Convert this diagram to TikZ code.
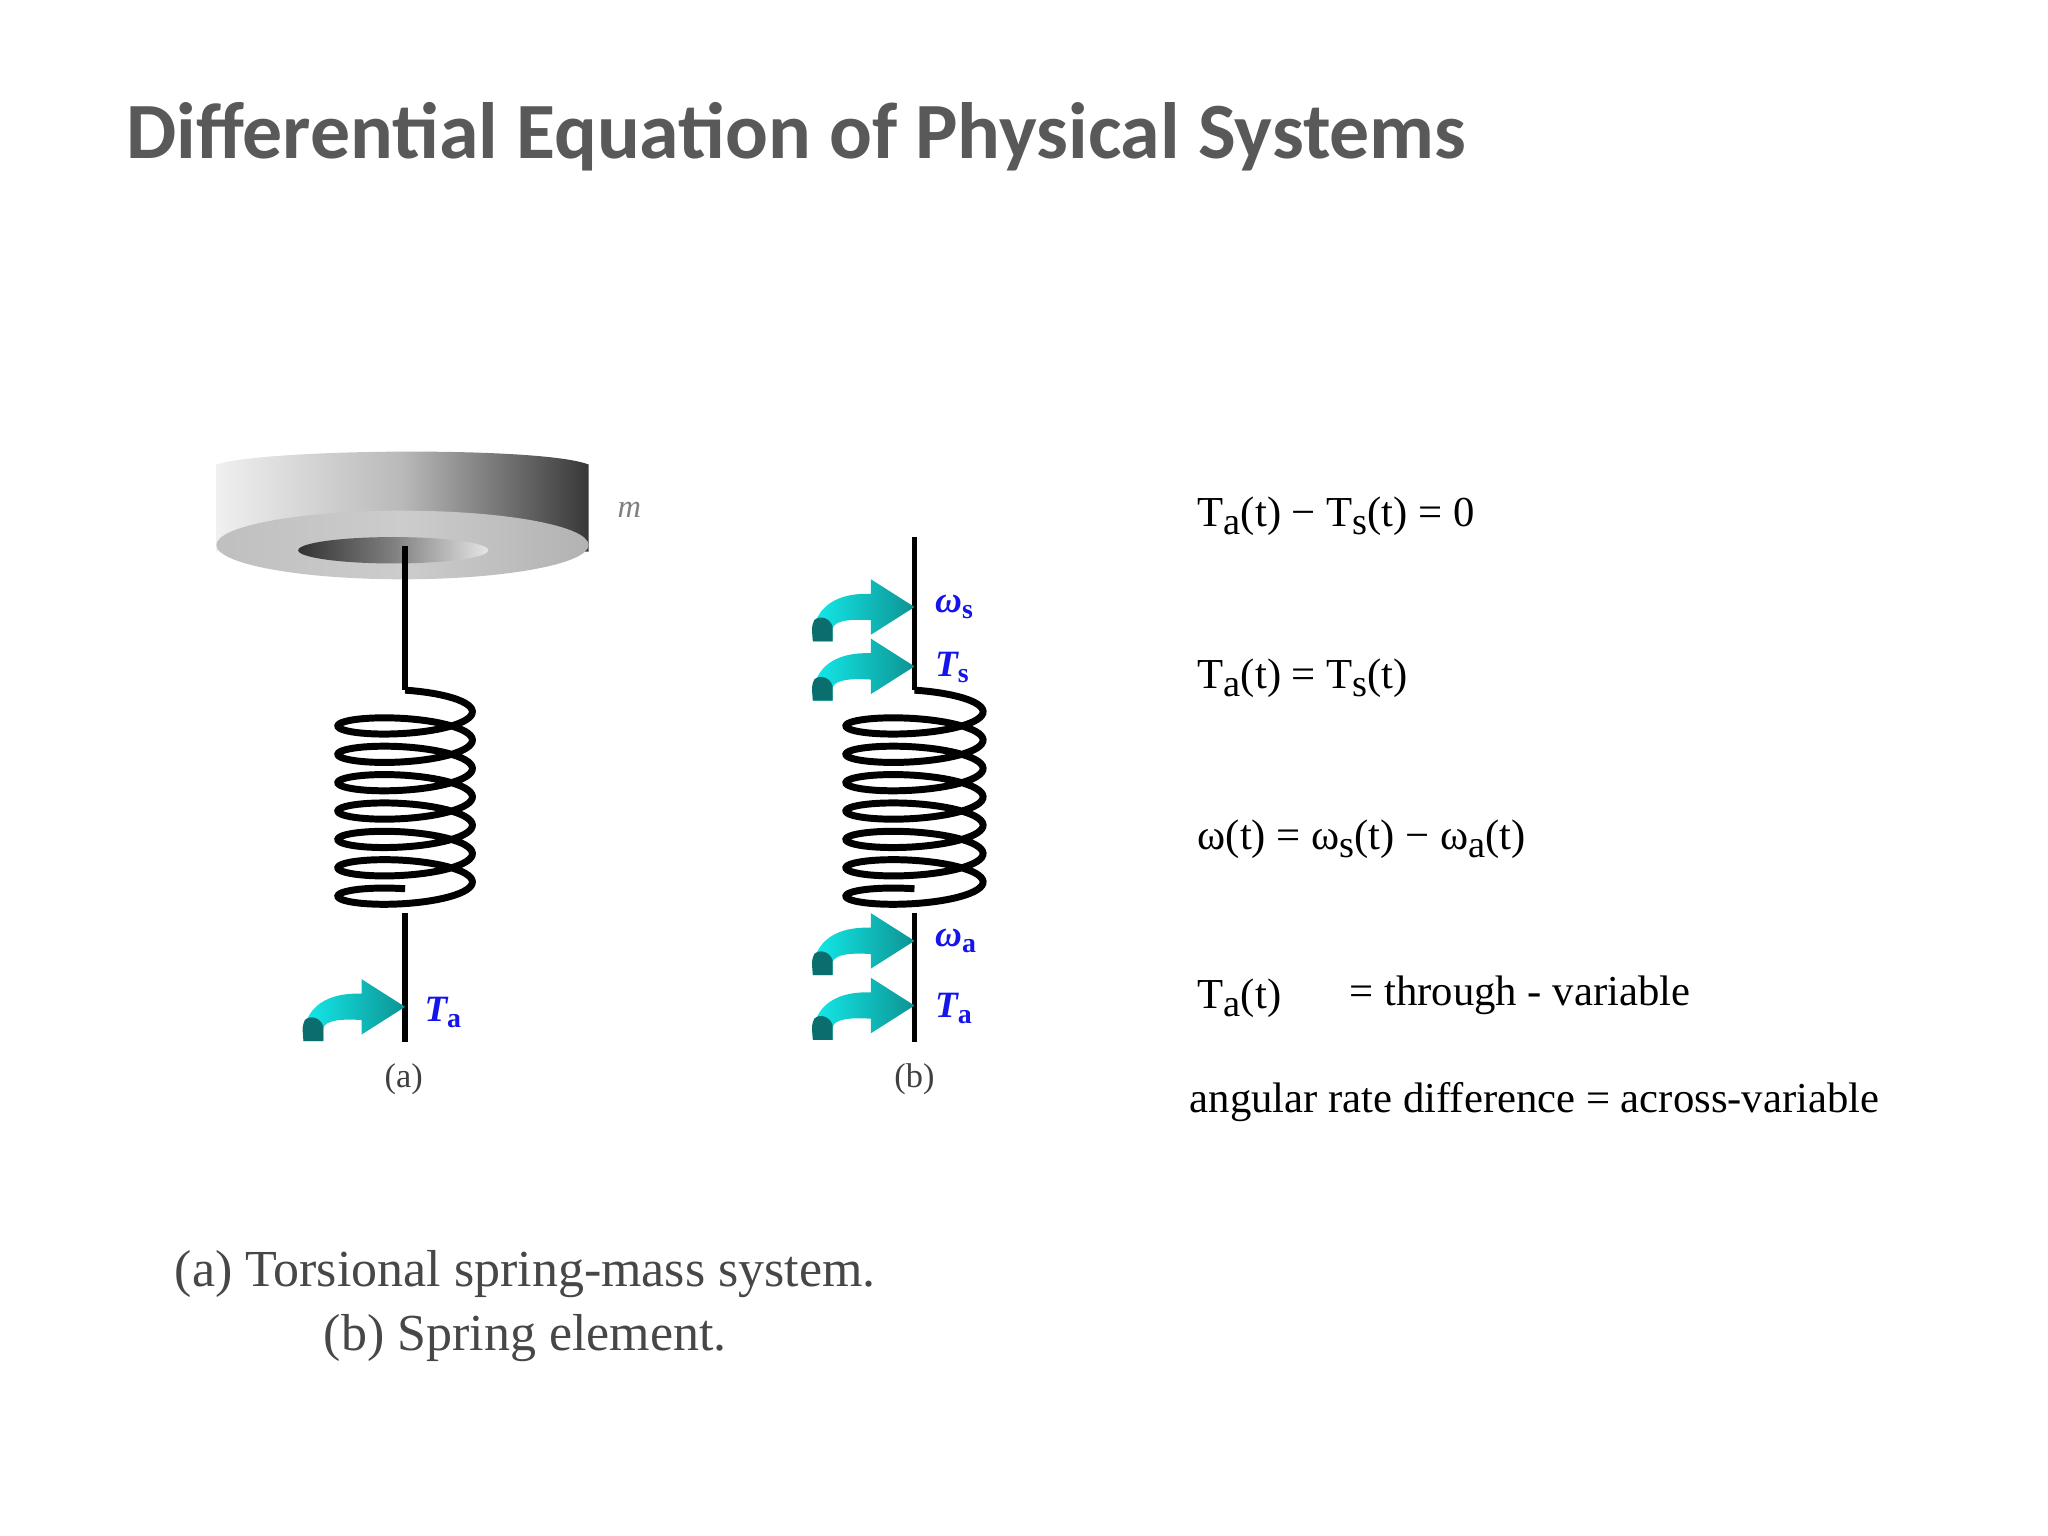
\documentclass[tikz,border=0pt]{standalone}
\usepackage{fontspec}
\setmainfont{Liberation Serif}
\newfontfamily\titlefont{Carlito}
\usetikzlibrary{shapes.geometric}
\definecolor{titlegray}{RGB}{89,89,89}
\definecolor{lblue}{RGB}{20,20,235}
\definecolor{arrcyan}{RGB}{20,235,235}
\definecolor{arrteal}{RGB}{10,110,110}
\newcommand{\sbs}[1]{\raisebox{-0.4ex}{\fontsize{8.3pt}{10pt}\selectfont #1}}
\newcommand{\lsub}[1]{\raisebox{-0.35ex}{\upshape\fontsize{6pt}{7pt}\selectfont #1}}
\tikzset{
  eq/.style={anchor=base west,font=\fontsize{9.2pt}{11pt}\selectfont,inner sep=0},
  lbl/.style={anchor=west,font=\fontsize{8pt}{9pt}\selectfont\bfseries\itshape,text=lblue,inner sep=0},
  rod/.style={line width=1.2pt,black},
  coil/.style={line width=1.5pt,black},
  curl/.pic={
    \shade[left color=arrcyan,right color=arrteal!70!arrcyan]
      (-33,-10) -- (-33,-21) -- (0,0) -- (-33,21) -- (-33,10)
      .. controls (-48,9) and (-60,10) .. (-62,16) -- (-62,26) -- (-77,26)
      .. controls (-78,5) and (-65,-11) .. cycle;
    \fill[arrteal] (-77,26) -- (-62,26) -- (-62,15) .. controls (-64,8) and (-72,6) .. (-76,10) .. controls (-78,15) .. cycle;
  }
}
\begin{document}
\begin{tikzpicture}[x=0.01cm,y=-0.01cm]
\useasboundingbox (0,0) rectangle (1552,1164);
\node[anchor=base west,inner sep=0,font=\titlefont\bfseries\fontsize{17.2pt}{21pt}\selectfont,text=titlegray] (title) at (95,120) {Differential Equation of Physical Systems};
% disk
\shade[left color=gray!12,right color=black!78,middle color=gray!55] (164,352) .. controls (200,340) and (410,338) .. (446,352) -- (446,418) -- (164,418) -- cycle;
\shade[left color=gray!50,right color=gray!60,middle color=gray!40] (305,413) ellipse (141 and 26);
\shade[left color=black!80,right color=gray!20,middle color=black!50] (298,417) ellipse (72 and 10);
\node[font=\fontsize{7pt}{8pt}\selectfont\itshape,text=gray,inner sep=0] (m) at (477,386) {m};
% (a)
\draw[rod] (307,414) -- (307,523);
\draw[coil] plot[variable=\t,domain=-90:2430,samples=400] ({307+51*cos(\t)},{534+21.5*((\t+90)/360)+11*sin(\t)});
\draw[rod] (307,692) -- (307,790);
\pic at (307,763) {curl};
\node[lbl] (ta) at (321,767) {T\lsub{a}};
\node[font=\fontsize{7.4pt}{8pt}\selectfont,text=black!75] (la) at (306,818) {(a)};
% (b)
\draw[rod] (693,407) -- (693,523);
\draw[coil] plot[variable=\t,domain=-90:2430,samples=400] ({693+52*cos(\t)},{534+21.5*((\t+90)/360)+11*sin(\t)});
\draw[rod] (693,692) -- (693,790);
\pic at (693,460) {curl};
\pic at (693,505) {curl};
\pic at (693,713) {curl};
\pic at (693,762) {curl};
\node[lbl] (ws) at (708,460) {ω\lsub{s}};
\node[lbl] (ts) at (708,506) {T\lsub{s}};
\node[lbl] (wa) at (708,713) {ω\lsub{a}};
\node[lbl] (tb) at (708,764) {T\lsub{a}};
\node[font=\fontsize{7.4pt}{8pt}\selectfont,text=black!75] (lb) at (693,818) {(b)};
% caption
\node[font=\fontsize{11.2pt}{13.8pt}\selectfont,text=black!72,align=center,inner sep=0] (cap) at (398,990) {(a) Torsional spring-mass system.\\(b) Spring element.};
% equations
\node[eq] (e1) at (907,399) {T\sbs{a}(t) − T\sbs{s}(t) = 0};
\node[eq] (e2) at (907,522) {T\sbs{a}(t) = T\sbs{s}(t)};
\node[eq] (e3) at (907,644) {ω(t) = ω\sbs{s}(t) − ω\sbs{a}(t)};
\node[eq] (e4) at (907,764) {T\sbs{a}(t)};
\node[eq] (e5) at (1022,762) {= through - variable};
\node[eq] (e6) at (901,843) {angular rate difference = across-variable};
\end{tikzpicture}
\end{document}
